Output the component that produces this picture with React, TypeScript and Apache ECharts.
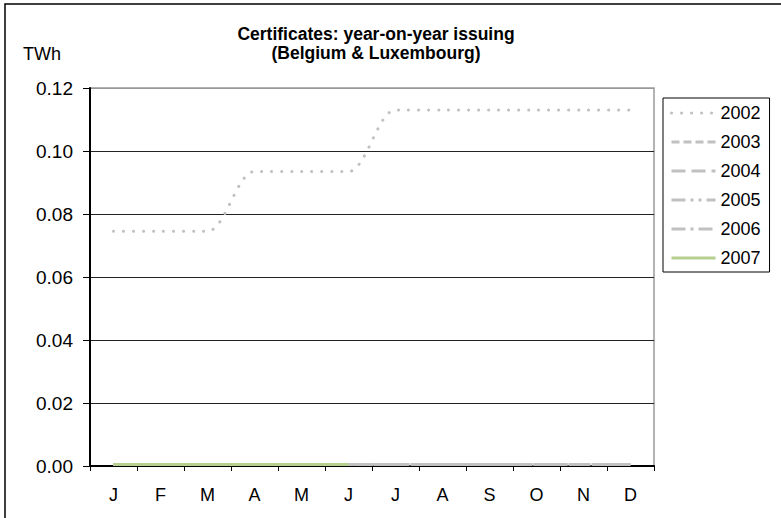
import React, { useEffect, useRef } from "react";
import * as echarts from "echarts";

const months = ["J", "F", "M", "A", "M", "J", "J", "A", "S", "O", "N", "D"];
const yTicks = [0, 0.02, 0.04, 0.06, 0.08, 0.1, 0.12];
const s2002 = [0.0745, 0.0745, 0.0745, 0.0935, 0.0935, 0.0935, 0.113, 0.113, 0.113, 0.113, 0.113, 0.113];
const s2003 = [0.0005, 0.0005, 0.0005, 0.0005, 0.0005, 0.0005, 0.0005, 0.0005, 0.0005, 0.0005, 0.0005, 0.0005];
const s2004 = [0.0005, 0.0005, 0.0005, 0.0005, 0.0005, 0.0005, 0.0005, 0.0005, 0.0005, 0.0005, 0.0005, 0.0005];
const s2005 = [0.0005, 0.0005, 0.0005, 0.0005, 0.0005, 0.0005, 0.0005, 0.0005, 0.0005, 0.0005, 0.0005, 0.0005];
const s2006 = [0.0005, 0.0005, 0.0005, 0.0005, 0.0005, 0.0005, 0.0005, 0.0005, 0.0005, 0.0005, 0.0005, 0.0005];
const s2007 = [0.0005, 0.0005, 0.0005, 0.0005, 0.0005, 0.0005, null, null, null, null, null, null];
const seriesNames = ["2002", "2003", "2004", "2005", "2006", "2007"];

const FONT = "Liberation Sans, Arial, sans-serif";
const GRAY = "#c0c0c0";

export default function App() {
  const ref = useRef<HTMLDivElement>(null);
  useEffect(() => {
    if (!ref.current) return;
    const chart = echarts.init(ref.current, null, { renderer: "svg" });
    const mk = (name: string, data: (number | null)[], color: string, type: any, cap: any = "butt", width = 3) => ({
      name,
      type: "line",
      data,
      symbol: "none",
      smooth: name === "2002" ? 0.3 : false,
      connectNulls: false,
      lineStyle: { color, width, type, cap },
      itemStyle: { color },
    });
    chart.setOption({
      animation: false,
      backgroundColor: "#fff",
      graphic: [
        {
          type: "rect",
          shape: { x: 5, y: 4, width: 1000, height: 1000 },
          style: { fill: "none", stroke: "#000", lineWidth: 1.5 },
          silent: true,
        },
        {
          type: "text",
          x: 376,
          y: 34,
          style: {
            text: "Certificates: year-on-year issuing",
            font: `bold 17.5px ${FONT}`,
            fill: "#000",
            align: "center",
            verticalAlign: "middle",
          },
        },
        {
          type: "text",
          x: 376,
          y: 53,
          style: {
            text: "(Belgium & Luxembourg)",
            font: `bold 17.5px ${FONT}`,
            fill: "#000",
            align: "center",
            verticalAlign: "middle",
          },
        },
        {
          type: "text",
          x: 23,
          y: 54,
          style: {
            text: "TWh",
            font: `18px ${FONT}`,
            fill: "#000",
            align: "left",
            verticalAlign: "middle",
          },
        },
      ],
      grid: {
        left: 90,
        right: 127,
        top: 88,
        bottom: 52,
        show: true,
        borderColor: "#999",
        borderWidth: 1.5,
        backgroundColor: "transparent",
      },
      legend: {
        orient: "vertical",
        left: 663,
        top: 98,
        padding: [6, 9, 5, 7],
        itemWidth: 44,
        itemHeight: 14,
        itemGap: 11,
        borderColor: "#000",
        borderWidth: 1,
        backgroundColor: "#fff",
        data: seriesNames,
        itemStyle: { opacity: 0, color: "transparent", borderWidth: 0 },
        lineStyle: { width: 3 },
        textStyle: { fontFamily: FONT, fontSize: 18, color: "#000", lineHeight: 18 },
      },
      xAxis: {
        type: "category",
        data: months,
        boundaryGap: true,
        axisLine: { show: true, lineStyle: { color: "#000", width: 2 } },
        axisTick: { show: true, length: 5, lineStyle: { color: "#000", width: 1 }, interval: 0 },
        axisLabel: { interval: 0, margin: 20, fontFamily: FONT, fontSize: 18, color: "#000" },
        splitLine: { show: false },
      },
      yAxis: {
        type: "value",
        min: yTicks[0],
        max: yTicks[yTicks.length - 1],
        interval: 0.02,
        axisLine: { show: true, lineStyle: { color: "#000", width: 2 } },
        axisTick: { show: true, length: 7, lineStyle: { color: "#000", width: 1 } },
        axisLabel: {
          margin: 17,
          fontFamily: FONT,
          fontSize: 19,
          color: "#000",
          formatter: (v: number) => v.toFixed(2),
        },
        splitLine: {
          show: true,
          lineStyle: { color: ["#222", "#222", "#222", "#222", "#222", "#222", "#999"], width: 1 },
        },
      },
      series: [
        mk("2002", s2002, GRAY, [0.1, 9.9], "round", 3),
        mk("2003", s2003, GRAY, [8, 4]),
        mk("2004", s2004, GRAY, [14, 6]),
        mk("2005", s2005, GRAY, [14, 5, 3, 5, 3, 5]),
        mk("2006", s2006, GRAY, [14, 5, 3, 5]),
        mk("2007", s2007, "#b4cf8e", "solid"),
      ],
    });
    return () => chart.dispose();
  }, []);
  return (
    <div
      ref={ref}
      style={{ position: "absolute", left: 0, top: 0, width: 781, height: 518 }}
    />
  );
}
